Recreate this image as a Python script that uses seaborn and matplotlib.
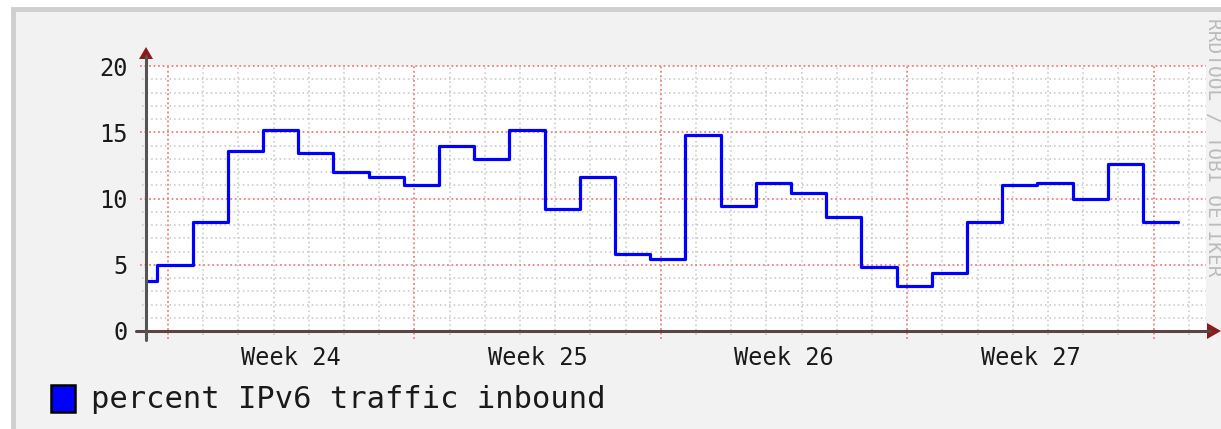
import numpy as np
import pandas as pd
import matplotlib
matplotlib.use("Agg")
import matplotlib.pyplot as plt
from matplotlib.patches import Rectangle, Polygon
from matplotlib.lines import Line2D
import seaborn as sns

# daily averages, percent of inbound traffic over IPv6
ipv6_pct = [3.8, 5.0, 8.2, 13.6, 15.2, 13.4, 12.0, 11.6, 11.0, 14.0,
            13.0, 15.2, 9.2, 11.6, 5.8, 5.4, 14.8, 9.4, 11.2, 10.4,
            8.6, 4.8, 3.4, 4.4, 8.2, 11.0, 11.2, 10.0, 12.6, 8.2]
first_day = -1.3          # first sample, days relative to start of week 24
week_starts = [0, 7, 14, 21, 28]
week_labels = ["Week 24", "Week 25", "Week 26", "Week 27"]
y_major = [0, 5, 10, 15, 20]
legend_label = "percent IPv6 traffic inbound"

W, H = 1221, 429
BG = "#F2F2F2"
MONO = ["DejaVu Sans Mono"]
ARROW = "#8B1C1C"


def fx(px):
    return px / W


def fy(py):
    return (H - py) / H


sns.set_theme(style="white")
plt.rcParams["font.family"] = MONO

fig = plt.figure(figsize=(W / 100, H / 100), dpi=100, facecolor="white")
fig.patches.append(Rectangle((fx(13), -0.1), 1.2, fy(9) + 0.1,
                             transform=fig.transFigure, facecolor=BG,
                             edgecolor="#CFCFCF", linewidth=3.5, zorder=-10))

ax = fig.add_axes([fx(146), fy(331), 1060 / W, 265 / H])
ax.set_facecolor("white")
x0 = -22 / 35.2
x1 = 1060 / 35.2 + x0
ax.set_xlim(x0, x1)
ax.set_ylim(0, 20)

# grid, rrdtool style
minor_style = dict(color="#C4C4C4", lw=1.1, ls=(0, (1, 2)), zorder=1)
major_style = dict(color="#EE7F7F", lw=1.3, ls=(0, (1, 1.5)), zorder=2)
for d in range(int(np.floor(x0)) + 1, int(np.ceil(x1))):
    if d in week_starts:
        ax.axvline(d, ymin=-0.03, ymax=1, clip_on=False, **major_style)
    else:
        ax.axvline(d, ymin=-0.015, ymax=1, clip_on=False, **minor_style)
for v in range(1, 21):
    if v in y_major:
        ax.axhline(v, xmin=-0.006, xmax=1, clip_on=False, **major_style)
    else:
        ax.axhline(v, xmin=-0.004, xmax=1, clip_on=False, **minor_style)

edges = first_day + np.arange(len(ipv6_pct) + 1)
df = pd.DataFrame({"day": edges, "pct": ipv6_pct + [ipv6_pct[-1]]})
sns.lineplot(data=df, x="day", y="pct", drawstyle="steps-post",
             estimator=None, color="#0000FF", lw=2.3, ax=ax, zorder=5)

for s in ax.spines.values():
    s.set_visible(False)
ax.set_xlabel("")
ax.set_ylabel("")

# axes lines with arrow heads
fig.lines.append(Line2D([fx(136), fx(1210)], [fy(331), fy(331)],
                        transform=fig.transFigure, color="#5A4444", lw=2.2))
fig.lines.append(Line2D([fx(146), fx(146)], [fy(340), fy(56)],
                        transform=fig.transFigure, color="#555555", lw=2.2))
fig.patches.append(Polygon([(fx(1207), fy(323)), (fx(1221), fy(331)),
                            (fx(1207), fy(339))], closed=True,
                           transform=fig.transFigure, color=ARROW, lw=0))
fig.patches.append(Polygon([(fx(139), fy(59)), (fx(146), fy(47)),
                            (fx(153), fy(59))], closed=True,
                           transform=fig.transFigure, color=ARROW, lw=0))

ax.set_yticks(y_major)
ax.set_yticklabels([str(v) for v in y_major])
ax.set_xticks([w + 3.5 for w in week_starts[:-1]])
ax.set_xticklabels(week_labels)
ax.tick_params(axis="both", length=0, labelsize=17, colors="#1A1A1A")
ax.tick_params(axis="y", pad=13)
ax.tick_params(axis="x", pad=11)

# legend
fig.patches.append(Rectangle((fx(51), fy(412)), 24 / W, 27 / H,
                             transform=fig.transFigure, facecolor="#0000FF",
                             edgecolor="black", linewidth=1.8))
fig.text(fx(91), fy(399), legend_label, fontsize=22, color="#1A1A1A",
         va="center", ha="left", family=MONO)

# watermark
fig.text(fx(1213), fy(18), "RRDTOOL / TOBI OETIKER", fontsize=14,
         color="#BBBBBB", rotation=270, va="top", ha="center", family=MONO)

fig.savefig("out.png", dpi=100, facecolor=fig.get_facecolor())
